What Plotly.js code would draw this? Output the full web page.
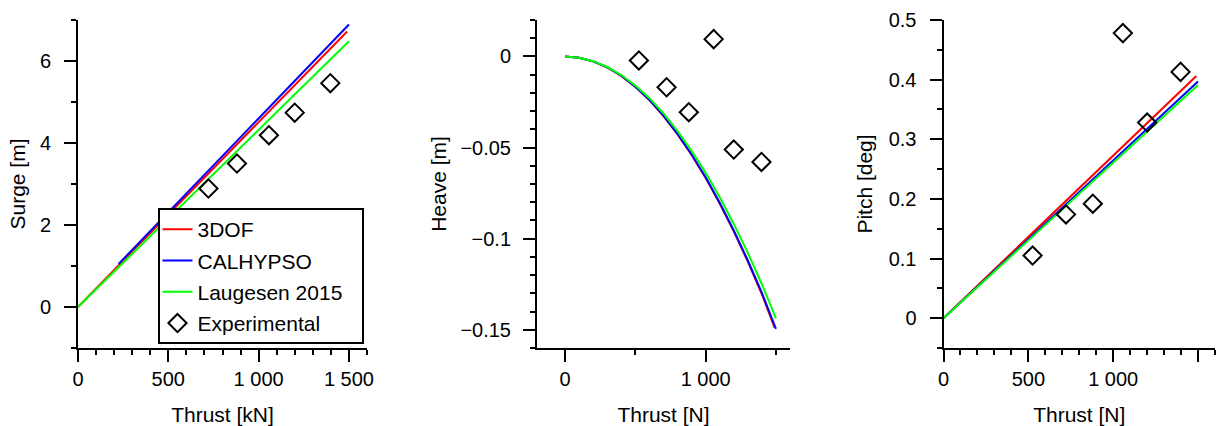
<!DOCTYPE html>
<html>
<head>
<meta charset="utf-8">
<script src="https://cdn.plot.ly/plotly-3.0.1.min.js"></script>
<style>
  html, body { margin: 0; padding: 0; background: #fff; }
  #chart { width: 1222px; height: 426px; }
</style>
</head>
<body>
<div id="chart"></div>
<script>
// ---------- data ----------
const seriesNames = ['3DOF', 'CALHYPSO', 'Laugesen 2015', 'Experimental'];

// Experimental thrust values (shared by the three panels)
const thrustExp = [525, 722, 880, 1057, 1200, 1397];
const surgeExp  = [2.1, 2.89, 3.50, 4.19, 4.74, 5.46];
const heaveExp  = [-0.0022, -0.0169, -0.0306, 0.0095, -0.0511, -0.0579];
const pitchExp  = [0.105, 0.174, 0.192, 0.478, 0.328, 0.413];

// Surge [m] vs thrust [kN]
const surge3dofX = [0, 1490];
const surge3dofY = [0, 6.72];
const surgeCalX  = [225, 1500];
const surgeCalY  = [1.05, 6.89];
const surgeLauX  = [0, 1500];
const surgeLauY  = [0, 6.48];

// Heave [m] vs thrust [N]
const heaveGridX = [0, 100, 200, 300, 400, 500, 600, 700, 800, 900, 1000, 1100, 1200, 1300, 1400, 1500];
const heave3dofX = [0, 100, 200, 300, 400, 500, 600, 700, 800, 900, 1000, 1100, 1200, 1300, 1400, 1490];
const heave3dofY = [0, -0.0007, -0.0027, -0.0060, -0.0107, -0.0167, -0.0240, -0.0327, -0.0428, -0.0541, -0.0667, -0.0807, -0.0960, -0.1126, -0.1305, -0.1488];
const heaveCalY  = [0, -0.0007, -0.0027, -0.0060, -0.0106, -0.0166, -0.0238, -0.0325, -0.0425, -0.0538, -0.0663, -0.0803, -0.0955, -0.1120, -0.1298, -0.1495];
const heaveLauY  = [0, -0.0007, -0.0026, -0.0058, -0.0102, -0.0160, -0.0229, -0.0313, -0.0410, -0.0518, -0.0638, -0.0773, -0.0919, -0.1078, -0.1250, -0.1438];

// Pitch [deg] vs thrust [N]
const pitch3dofX = [0, 1490];
const pitch3dofY = [0, 0.406];
const pitchCalX  = [0, 1500];
const pitchCalY  = [0, 0.397];
const pitchLauX  = [0, 1500];
const pitchLauY  = [0, 0.391];

// Axis titles
const surgeXTitle = 'Thrust [kN]';
const heaveXTitle = 'Thrust [N]';
const pitchXTitle = 'Thrust [N]';
const surgeYTitle = 'Surge [m]';
const heaveYTitle = 'Heave [m]';
const pitchYTitle = 'Pitch [deg]';

// ---------- styling ----------
const colors = ['#ff0000', '#0000ff', '#00ff00', '#000000'];
const FONT = 'Liberation Sans, Arial, Helvetica, sans-serif';

function lineTrace(x, y, i, xa, ya, show) {
  return {
    x: x, y: y, type: 'scatter', mode: 'lines',
    name: seriesNames[i], legendgroup: 'g' + i, showlegend: show,
    line: { color: colors[i], width: 2 },
    xaxis: xa, yaxis: ya, hoverinfo: 'skip'
  };
}
function expTrace(x, y, xa, ya, show) {
  return {
    x: x, y: y, type: 'scatter', mode: 'markers',
    name: seriesNames[3], legendgroup: 'g3', showlegend: show,
    marker: { symbol: 'diamond-open', size: 14, color: '#000', line: { color: '#000', width: 2 } },
    xaxis: xa, yaxis: ya, hoverinfo: 'skip'
  };
}

const traces = [
  lineTrace(surge3dofX, surge3dofY, 0, 'x', 'y', true),
  lineTrace(surgeCalX, surgeCalY, 1, 'x', 'y', true),
  lineTrace(surgeLauX, surgeLauY, 2, 'x', 'y', true),
  expTrace(thrustExp, surgeExp, 'x', 'y', true),

  lineTrace(heave3dofX, heave3dofY, 0, 'x2', 'y2', false),
  lineTrace(heaveGridX, heaveCalY, 1, 'x2', 'y2', false),
  lineTrace(heaveGridX, heaveLauY, 2, 'x2', 'y2', false),
  expTrace(thrustExp, heaveExp, 'x2', 'y2', false),

  lineTrace(pitch3dofX, pitch3dofY, 0, 'x3', 'y3', false),
  lineTrace(pitchCalX, pitchCalY, 1, 'x3', 'y3', false),
  lineTrace(pitchLauX, pitchLauY, 2, 'x3', 'y3', false),
  expTrace(thrustExp, pitchExp, 'x3', 'y3', false)
];

function axisBase(extra) {
  return Object.assign({
    showline: true, linecolor: '#000', linewidth: 2,
    showgrid: false, zeroline: false,
    ticks: 'outside', ticklen: 12, tickwidth: 2, tickcolor: '#000',
    tickfont: { family: FONT, size: 20, color: '#000' },
    separatethousands: true,
    automargin: true,
    fixedrange: true
  }, extra);
}
function minor(dt) {
  return { dtick: dt, ticks: 'outside', ticklen: 5, tickwidth: 2, tickcolor: '#000', showgrid: false };
}
function ttl(t, so) { return { text: t, standoff: so, font: { family: FONT, size: 21, color: '#000' } }; }

const W = 1222, PT = 20, PB = 348, PH = 328;
const py = v => (PB - v) / PH;   // pixel row -> paper fraction (layout placement only)

const layout = {
  width: 1222, height: 426,
  margin: { l: 0, r: 0, t: PT, b: 426 - PB, autoexpand: false },
  paper_bgcolor: '#fff', plot_bgcolor: '#fff',
  separators: '. ',
  font: { family: FONT, size: 21, color: '#000' },
  showlegend: true,
  legend: {
    x: 157.5 / W, y: py(209), xanchor: 'left', yanchor: 'top',
    bgcolor: 'rgba(0,0,0,0)', borderwidth: 0,
    font: { family: FONT, size: 21, color: '#000' },
    traceorder: 'grouped', tracegroupgap: 1
  },
  shapes: [{
    type: 'rect', xref: 'paper', yref: 'paper', layer: 'above',
    x0: 159 / W, x1: 363 / W, y0: py(343), y1: py(209),
    line: { color: '#000', width: 2 }, fillcolor: '#fff'
  }],
  xaxis: axisBase({ domain: [78 / W, 367 / W], anchor: 'y', range: [0, 1600], dtick: 500, tick0: 0, minor: minor(100), title: ttl(surgeXTitle, 19) }),
  yaxis: axisBase({ domain: [0, 1], anchor: 'x', range: [-1, 7], dtick: 2, tick0: 0, minor: minor(1), ticklabelstandoff: 9, title: ttl(surgeYTitle, 9) }),
  xaxis2: axisBase({ domain: [537 / W, 790 / W], anchor: 'y2', range: [-200, 1600], dtick: 1000, tick0: 0, minor: minor(500), title: ttl(heaveXTitle, 19) }),
  yaxis2: axisBase({ domain: [0, 1], anchor: 'x2', range: [-0.16, 0.02], dtick: 0.05, tick0: 0, minor: minor(0.01), ticklabelstandoff: 8, title: ttl(heaveYTitle, 8) }),
  xaxis3: axisBase({ domain: [943.5 / W, 1215 / W], anchor: 'y3', range: [0, 1600], dtick: 500, tick0: 0, minor: minor(100), title: ttl(pitchXTitle, 19) }),
  yaxis3: axisBase({ domain: [0, 1], anchor: 'x3', range: [-0.05, 0.5], dtick: 0.1, tick0: 0, minor: minor(0.05), ticklabelstandoff: 9, title: ttl(pitchYTitle, 10) })
};

Plotly.newPlot('chart', traces, layout, { displayModeBar: false, staticPlot: true });
</script>
</body>
</html>
